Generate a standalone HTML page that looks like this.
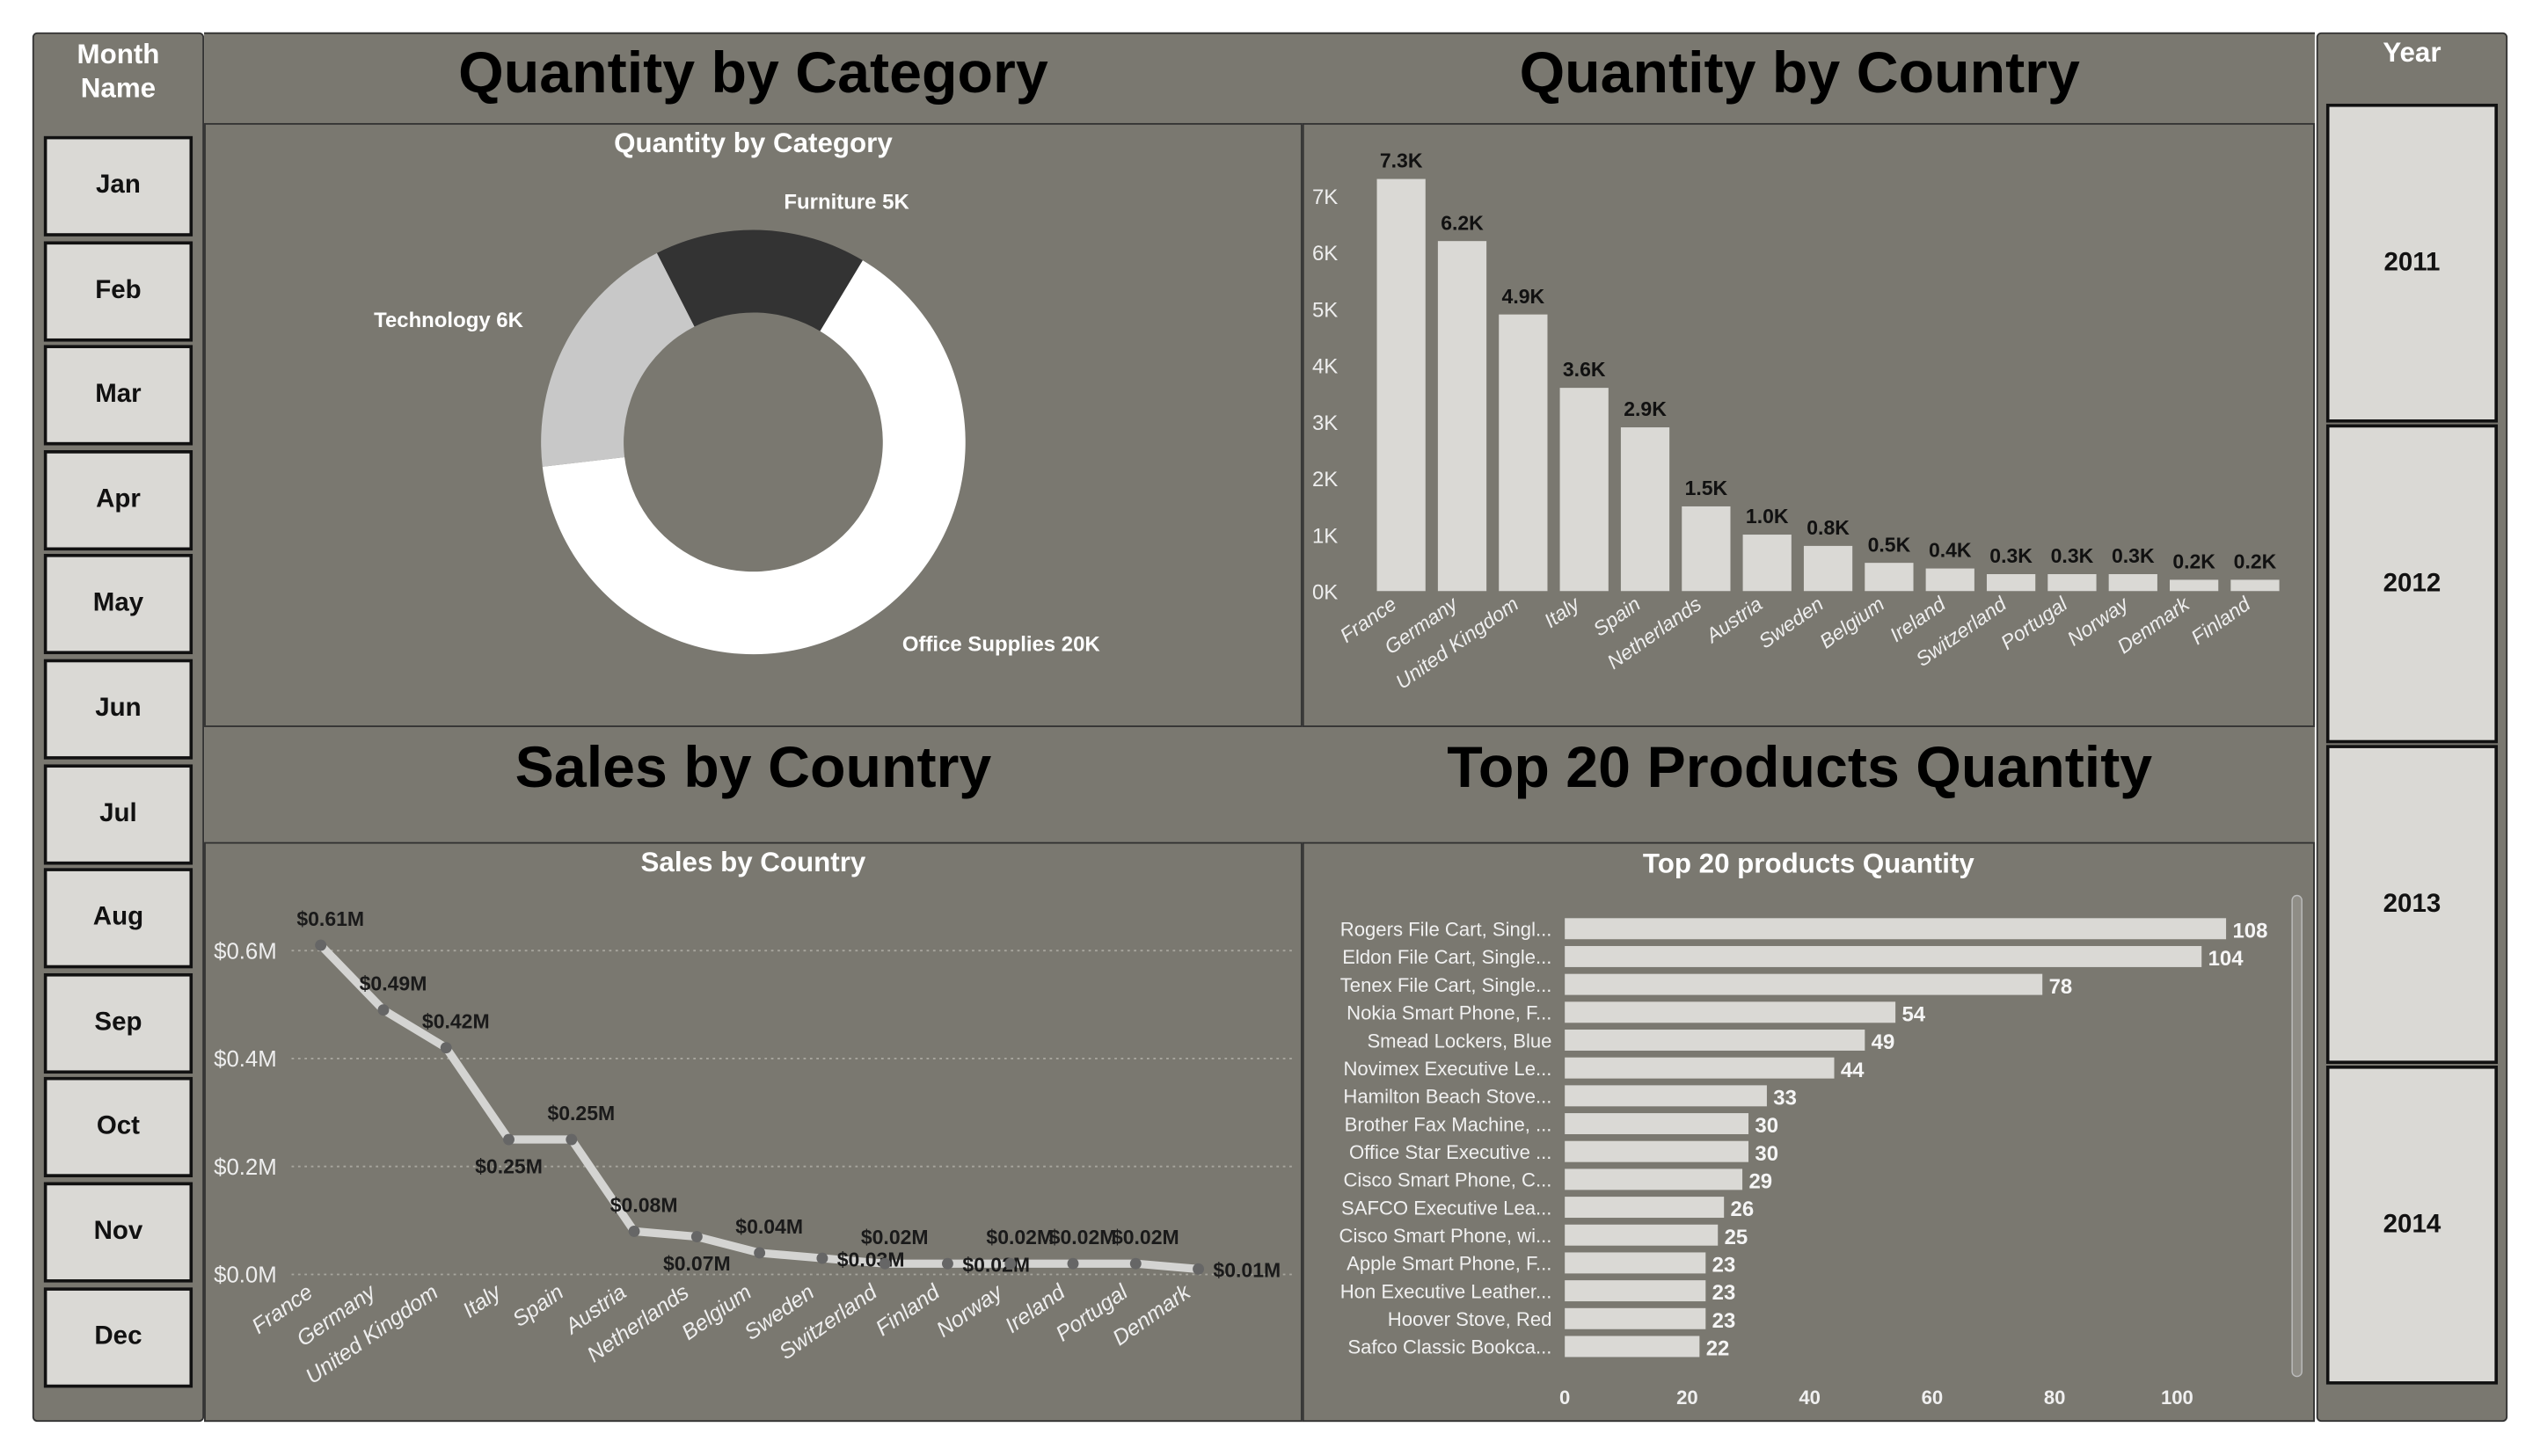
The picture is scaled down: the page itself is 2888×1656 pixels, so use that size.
<!DOCTYPE html>
<html><head><meta charset="utf-8"><style>
html,body{margin:0;padding:0;background:#fff;width:2888px;height:1656px;overflow:hidden}
#w{position:absolute;left:0;top:0;width:1568px;height:899px;transform:scale(1.8418);transform-origin:0 0;font-family:"Liberation Sans",sans-serif}
.p{position:absolute;background:#7a7870;box-sizing:border-box}
.btn{position:absolute;background:#dad9d5;border:2px solid #111;box-sizing:border-box;display:flex;align-items:center;justify-content:center;font-weight:bold;font-size:16px;color:#111}
.big{position:absolute;font-weight:bold;font-size:36px;color:#000;text-align:center}
.ph{position:absolute;font-weight:bold;font-size:17px;color:#fff;text-align:center}
</style></head><body>
<div id="w">
<div class="p" style="left:20px;top:20px;width:106px;height:858px;border:1px solid #333;border-radius:3px">
<div style="position:absolute;top:2px;width:100%;text-align:center;color:#fff;font-weight:bold;font-size:17px;line-height:21px">Month<br>Name</div>
</div>
<div class="p" style="left:1430px;top:20px;width:118px;height:858px;border:1px solid #333;border-radius:3px">
<div style="position:absolute;top:2px;width:100%;text-align:center;color:#fff;font-weight:bold;font-size:17px">Year</div>
</div>
<div class="p" style="left:126px;top:20px;width:1303px;height:858px;border-top:1px solid #333"></div>
<div class="big" style="left:126px;top:24px;width:678px">Quantity by Category</div>
<div class="big" style="left:804px;top:24px;width:614px">Quantity by Country</div>
<div class="big" style="left:126px;top:453px;width:678px">Sales by Country</div>
<div class="big" style="left:804px;top:453px;width:614px">Top 20 Products Quantity</div>
<div class="p" style="left:126px;top:76px;width:678px;height:373px;border:1px solid #333"></div>
<div class="p" style="left:804px;top:76px;width:625px;height:373px;border:1px solid #333"></div>
<div class="p" style="left:126px;top:520px;width:678px;height:358px;border:1px solid #333"></div>
<div class="p" style="left:804px;top:520px;width:625px;height:358px;border:1px solid #333"></div>
<div class="ph" style="left:126px;top:79px;width:678px">Quantity by Category</div>
<div class="ph" style="left:126px;top:523px;width:678px">Sales by Country</div>
<div class="ph" style="left:804px;top:524px;width:625px">Top 20 products Quantity</div>
<svg id="s" width="1568" height="899" style="position:absolute;left:0;top:0" font-family="Liberation Sans, sans-serif"></svg>
</div>
<script>
const months=["Jan","Feb","Mar","Apr","May","Jun","Jul","Aug","Sep","Oct","Nov","Dec"];
const years=["2011","2012","2013","2014"];
const catNames=["Furniture","Office Supplies","Technology"];
const catValues=[5,20,6];
const catLabels=["Furniture 5K","Office Supplies 20K","Technology 6K"];
const qCountries=["France","Germany","United Kingdom","Italy","Spain","Netherlands","Austria","Sweden","Belgium","Ireland","Switzerland","Portugal","Norway","Denmark","Finland"];
const qValues=[7.3,6.2,4.9,3.6,2.9,1.5,1.0,0.8,0.5,0.4,0.3,0.3,0.3,0.2,0.2];
const qTicks=[0,1,2,3,4,5,6,7];
const sCountries=["France","Germany","United Kingdom","Italy","Spain","Austria","Netherlands","Belgium","Sweden","Switzerland","Finland","Norway","Ireland","Portugal","Denmark"];
const sValues=[0.61,0.49,0.42,0.25,0.25,0.08,0.07,0.04,0.03,0.02,0.02,0.02,0.02,0.02,0.01];
const sTicks=[0,0.2,0.4,0.6];
const sLabelBelow=[0,0,0,1,0,0,1,0,1,0,1,0,0,0,1];
const pNames=["Rogers File Cart, Singl...","Eldon File Cart, Single...","Tenex File Cart, Single...","Nokia Smart Phone, F...","Smead Lockers, Blue","Novimex Executive Le...","Hamilton Beach Stove...","Brother Fax Machine, ...","Office Star Executive ...","Cisco Smart Phone, C...","SAFCO Executive Lea...","Cisco Smart Phone, wi...","Apple Smart Phone, F...","Hon Executive Leather...","Hoover Stove, Red","Safco Classic Bookca..."];
const pValues=[108,104,78,54,49,44,33,30,30,29,26,25,23,23,23,22];
const pTicks=[0,20,40,60,80,100];

const W=document.getElementById('w'),S=document.getElementById('s'),NS="http://www.w3.org/2000/svg";
function mk(t,a,txt){const e=document.createElementNS(NS,t);for(const k in a)e.setAttribute(k,a[k]);if(txt!=null)e.textContent=txt;S.appendChild(e);return e;}

months.forEach((m,i)=>{const b=document.createElement('div');b.className='btn';b.style.cssText=`left:27px;top:${84+i*64.6}px;width:92px;height:62px`;b.textContent=m;

W.appendChild(b);});
years.forEach((y,i)=>{const b=document.createElement('div');b.className='btn';b.style.cssText=`left:1436px;top:${64+i*198}px;width:106px;height:197px`;b.textContent=y;

W.appendChild(b);});

const cx=465,cy=273,R=131,r=80,cols=["#333333","#ffffff","#c8c8c8"];
const tot=catValues.reduce((a,b)=>a+b,0);let ang=-27;
const lblPos=[[484,124,'start'],[557,397,'start'],[323,197,'end']];
catValues.forEach((v,i)=>{const a0=ang*Math.PI/180,a1=(ang+v/tot*360)*Math.PI/180;ang+=v/tot*360;
const P=(rr,a)=>[cx+rr*Math.sin(a),cy-rr*Math.cos(a)];const lg=(a1-a0)>Math.PI?1:0;
const [x0,y0]=P(R,a0),[x1,y1]=P(R,a1),[x2,y2]=P(r,a1),[x3,y3]=P(r,a0);
const e=mk('path',{d:`M${x0},${y0}A${R},${R} 0 ${lg} 1 ${x1},${y1}L${x2},${y2}A${r},${r} 0 ${lg} 0 ${x3},${y3}Z`,fill:cols[i]});


const t=mk('text',{x:lblPos[i][0],y:lblPos[i][1]+5,'text-anchor':lblPos[i][2],fill:'#fff','font-size':13,'font-weight':'bold'},catLabels[i]);

});

const by=v=>365-v*34.86,bx=i=>865+i*37.65;
qTicks.forEach(t=>{const e=mk('text',{x:818,y:by(t)+5,'text-anchor':'middle',fill:'#eee','font-size':13},t+'K');

});
qValues.forEach((v,i)=>{const e=mk('rect',{x:bx(i)-15,y:by(v),width:30,height:365-by(v),fill:'#dad9d5'});


const t=mk('text',{x:bx(i),y:by(v)-7,'text-anchor':'middle',fill:'#111','font-size':12.5,'font-weight':'bold'},v.toFixed(1)+'K');


const c=mk('text',{x:bx(i)-2,y:375,'text-anchor':'end',fill:'#eee','font-size':12.5,'font-style':'italic',transform:`rotate(-35 ${bx(i)-2} 375)`},qCountries[i]);

});

const ly=v=>787-v*333.3,lx=i=>198+i*38.7;
sTicks.forEach(t=>{const e=mk('text',{x:132,y:ly(t)+5,fill:'#eee','font-size':14},'$'+t.toFixed(1)+'M');


const g=mk('line',{x1:180,x2:800,y1:ly(t),y2:ly(t),stroke:'#a8a69e','stroke-dasharray':'1.5 2.5','stroke-width':1});

});
const pl=mk('polyline',{points:sValues.map((v,i)=>lx(i)+','+ly(v)).join(' '),fill:'none',stroke:'#d4d4d2','stroke-width':5,'stroke-linejoin':'round'});


sValues.forEach((v,i)=>{const c=mk('circle',{cx:lx(i),cy:ly(v),r:3.5,fill:'#666'});


const t=mk('text',{x:lx(i)+(sLabelBelow[i]?(i>7?30:0):6),y:sLabelBelow[i]?ly(v)+(i>7?5:21):ly(v)-12,'text-anchor':'middle',fill:'#1a1a1a','font-size':12.5,'font-weight':'bold'},'$'+v.toFixed(2)+'M');


const x=mk('text',{x:lx(i)-4,y:800,'text-anchor':'end',fill:'#eee','font-size':13.5,'font-style':'italic',transform:`rotate(-35 ${lx(i)-4} 800)`},sCountries[i]);

});

const px=v=>966+v*3.78,pyy=i=>567+i*17.2;
pValues.forEach((v,i)=>{const e=mk('rect',{x:966,y:pyy(i),width:px(v)-966,height:13,fill:'#dad9d5'});


const n=mk('text',{x:958,y:pyy(i)+11,'text-anchor':'end',fill:'#f0f0f0','font-size':12},pNames[i]);


const t=mk('text',{x:px(v)+4,y:pyy(i)+12,fill:'#f5f5f5','font-size':13,'font-weight':'bold'},String(v));

});
pTicks.forEach(t=>{const e=mk('text',{x:px(t),y:867,'text-anchor':'middle',fill:'#f0f0f0','font-size':12,'font-weight':'bold'},String(t));

});
const sb=mk('rect',{x:1415,y:553,width:6,height:297,rx:3,fill:'#8f8d86',stroke:'#bbb','stroke-width':0.8});


</script>
</body></html>
